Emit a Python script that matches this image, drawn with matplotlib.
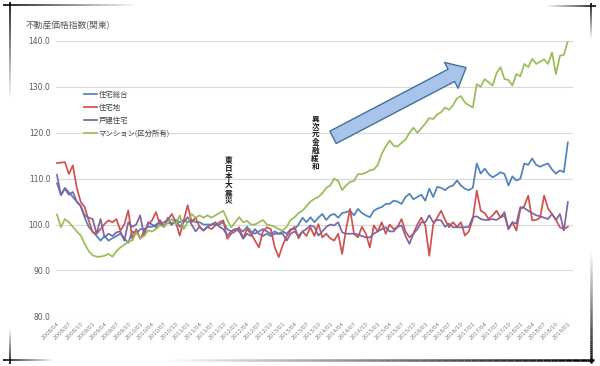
import matplotlib
matplotlib.use("Agg")
import matplotlib.pyplot as plt
from matplotlib.collections import LineCollection
from matplotlib.patches import FancyArrowPatch
import numpy as np

plt.rcParams['font.family'] = ['Noto Sans CJK JP', 'DejaVu Sans']

# ---- data ----
months = []
y, m = 2008, 4
while (y, m) <= (2019, 1):
    months.append(f"{y}/{m:02d}")
    m += 1
    if m > 12:
        m = 1
        y += 1

title = "不動産価格指数(関東)"
series_names = ["住宅総合", "住宅地", "戸建住宅", "マンション(区分所有)"]

sogo = [109.0, 106.5, 108.0, 107.0, 106.0, 105.0, 104.0, 101.5, 99.5, 98.5,
        97.5, 96.5, 97.5, 96.5, 97.0, 97.5, 98.0, 97.0, 96.0, 98.5,
        98.0, 99.0, 99.0, 99.5, 99.5, 100.0, 100.5, 99.5, 100.5, 100.0,
        101.0, 100.5, 101.0, 100.5, 101.0, 100.5, 100.5, 100.0, 100.0, 100.0,
        100.0, 100.0, 100.5, 99.0, 98.5, 99.0, 99.0, 98.5, 99.5, 98.5,
        98.0, 98.5, 99.0, 98.5, 98.0, 98.5, 98.0, 98.5, 98.0, 99.0,
        99.0, 100.0, 101.5, 100.5, 101.6, 100.5, 101.5, 102.3, 101.0, 102.0,
        102.3, 101.5, 102.5, 102.7, 103.0, 102.0, 103.4, 102.5, 102.0, 101.6,
        103.0, 103.5, 103.8, 104.5, 104.5, 105.2, 105.0, 104.5, 106.0, 106.7,
        105.5, 106.0, 106.5, 105.2, 107.8, 106.0, 108.2, 108.0, 107.5, 108.2,
        108.5, 109.6, 108.5, 107.8, 107.5, 108.0, 113.3, 111.1, 112.2, 111.0,
        110.3, 110.8, 111.4, 111.0, 108.5, 110.5, 109.6, 110.0, 113.3, 113.0,
        114.4, 113.0, 112.6, 113.0, 113.3, 112.0, 111.1, 111.8, 111.4, 117.9]

takuchi = [113.4, 113.5, 113.6, 111.0, 112.9, 108.0, 104.9, 103.8, 100.9, 98.3,
           98.0, 99.0, 100.1, 100.9, 100.5, 101.2, 98.7, 100.0, 103.1, 96.9,
           99.0, 96.9, 98.5, 100.0, 100.9, 102.7, 100.0, 100.5, 101.0, 102.3,
           100.5, 97.6, 100.9, 104.2, 100.5, 101.5, 99.5, 98.7, 99.5, 99.0,
           99.8, 100.5, 100.9, 96.9, 98.0, 98.5, 99.4, 97.0, 99.0, 98.0,
           96.5, 95.0, 98.5, 99.4, 99.0, 95.0, 92.9, 95.5, 97.5, 98.7,
           99.5, 97.0, 98.5, 97.5, 99.4, 97.5, 100.1, 97.2, 98.0, 97.0,
           96.5, 98.0, 93.6, 99.0, 103.4, 98.0, 97.2, 99.5, 98.0, 95.0,
           99.8, 98.5, 100.5, 98.0, 100.0, 99.0, 99.5, 101.2, 98.5, 97.2,
           98.0, 100.0, 101.5, 99.8, 93.2, 100.0, 101.5, 103.0, 101.0, 99.4,
           100.5, 99.5, 100.5, 97.6, 98.5, 101.2, 107.4, 103.0, 102.5, 101.2,
           102.0, 103.0, 101.5, 102.0, 99.0, 100.5, 98.7, 103.4, 104.0, 106.3,
           100.9, 101.0, 101.5, 106.3, 103.5, 102.3, 101.0, 99.4, 99.0, 99.5]

kodate = [110.8, 106.4, 107.8, 106.5, 107.1, 105.0, 104.0, 102.0, 101.5, 101.2,
          98.0, 101.2, 97.2, 98.0, 97.5, 98.3, 98.5, 96.5, 100.5, 99.5,
          100.0, 102.0, 97.6, 100.5, 100.0, 99.4, 101.0, 99.5, 101.5, 100.0,
          101.0, 99.5, 100.5, 101.6, 100.0, 98.5, 99.5, 98.7, 99.5, 100.0,
          100.5, 99.5, 99.0, 97.6, 98.5, 99.0, 98.5, 96.9, 98.0, 97.5,
          99.0, 98.0, 97.5, 98.0, 97.5, 98.0, 98.0, 98.0, 96.5, 98.0,
          98.5, 97.5, 98.5, 99.0, 99.8, 99.5, 97.6, 98.5, 99.5, 100.0,
          99.8, 100.5, 98.3, 98.0, 98.0, 98.0, 97.8, 97.5, 97.2, 97.2,
          98.0, 98.5, 99.0, 99.4, 98.5, 98.5, 99.5, 99.8, 97.5, 95.8,
          98.0, 99.0, 100.5, 100.5, 102.0, 100.5, 101.0, 100.9, 99.5, 100.2,
          99.4, 99.4, 99.4, 99.4, 99.5, 101.6, 101.8, 101.2, 101.0, 101.0,
          101.2, 101.0, 101.6, 102.7, 99.0, 100.5, 100.2, 103.8, 103.6, 103.0,
          102.5, 102.0, 101.8, 101.5, 101.2, 102.3, 101.0, 102.3, 98.7, 104.9]

mansion = [102.2, 99.4, 101.2, 100.5, 99.5, 98.5, 97.6, 95.8, 94.2, 93.3,
           93.0, 93.0, 93.2, 93.6, 93.0, 94.2, 95.0, 95.6, 96.3, 96.5,
           98.3, 97.0, 97.5, 98.7, 98.5, 99.0, 99.8, 99.5, 100.5, 101.2,
           100.0, 102.0, 99.0, 100.5, 102.3, 101.5, 102.0, 101.5, 102.0, 101.5,
           102.0, 102.5, 103.0, 101.0, 99.4, 100.5, 101.6, 100.5, 100.8, 100.0,
           100.0, 100.5, 101.0, 100.0, 99.8, 99.5, 99.0, 98.7, 99.5, 101.0,
           101.6, 102.5, 103.0, 104.0, 105.0, 105.6, 106.0, 106.8, 108.0, 108.5,
           110.0, 109.5, 107.5, 108.5, 109.3, 109.5, 111.0, 111.0, 111.3, 111.8,
           112.0, 113.0, 115.4, 117.0, 118.3, 117.2, 117.0, 117.8, 118.5, 120.0,
           121.1, 120.0, 121.0, 122.0, 123.2, 123.0, 124.0, 124.5, 125.5, 125.0,
           126.0, 127.5, 128.0, 126.6, 126.0, 125.5, 130.6, 130.0, 131.7, 131.0,
           130.3, 133.0, 134.3, 131.7, 131.5, 130.3, 132.8, 132.3, 135.0, 134.3,
           136.1, 135.0, 135.5, 136.0, 135.0, 137.5, 132.8, 136.8, 137.0, 140.0]

colors = ['#4F81BD', '#D0504D', '#8064A2', '#9BBB59']
yticks = [80, 90, 100, 110, 120, 130, 140]

W, H = 600, 366
fig = plt.figure(figsize=(6.0, 3.66), dpi=100)
ax = fig.add_axes([56 / W, 1 - 316.3 / H, (573 - 56) / W, (316.3 - 41) / H])

x = np.arange(len(months))
for vals, c, name in zip([sogo, takuchi, kodate, mansion], colors, series_names):
    ax.plot(x, vals, color=c, lw=1.25, label=name, solid_joinstyle='round')

ax.set_xlim(-0.25, 130.3)
ax.set_ylim(80, 140)
ax.set_yticks(yticks)
ax.set_yticklabels([f"{v:.1f}" for v in yticks], fontsize=5.5, color='#595959',
                   family='DejaVu Sans')
tick_idx = list(range(0, len(months), 3))
ax.set_xticks(tick_idx)
ax.set_xticklabels([months[i] for i in tick_idx], rotation=45, ha='right', va='top',
                   rotation_mode='anchor', fontsize=4.0, color='#7F7F7F',
                   family='DejaVu Sans')
ax.tick_params(length=0, pad=4)
ax.tick_params(axis='x', pad=3)
for s in ax.spines.values():
    s.set_visible(False)
ax.grid(axis='y', color='#D9D9D9', lw=0.8)
ax.set_axisbelow(True)

fig.text(26 / W, 1 - 26 / H, title, fontsize=6.3, color='#595959', va='center', ha='left')

leg = ax.legend(loc='upper left', bbox_to_anchor=(84 / W, 1 - 90.5 / H),
                bbox_transform=fig.transFigure, frameon=False, fontsize=5.3,
                handlelength=1.8, handletextpad=0.2, labelspacing=0.68,
                borderpad=0, borderaxespad=0)
for t in leg.get_texts():
    t.set_color('#404040')

# annotations (vertical text)
def vtext(xv, yv, s):
    ax.text(xv, yv, "\n".join(s), fontsize=5.5, linespacing=0.86, ha='center',
            va='center', color='#1a1a1a', fontweight='bold')

vtext(43.4, 109.6, "東日本大震災")
vtext(65.2, 117.8, "異次元金融緩和")

arrow = FancyArrowPatch((69.7, 119.0), (103.3, 134.2),
                        arrowstyle='simple,head_length=12,head_width=21,tail_width=10',
                        mutation_scale=1, shrinkA=0, shrinkB=0,
                        fc='#A8C4EA', ec='#41719C', lw=1.0, zorder=5)
ax.add_patch(arrow)

# decorative frame corners
def grad_line(x0, y0, x1, y1, lw=1.5, a0=1.0, a1=0.0, n=60, color=(0, 0, 0)):
    xs = np.linspace(x0, x1, n + 1) / W
    ys = 1 - np.linspace(y0, y1, n + 1) / H
    segs = [[(xs[i], ys[i]), (xs[i + 1], ys[i + 1])] for i in range(n)]
    alphas = np.linspace(a0, a1, n)
    cols = [(color[0], color[1], color[2], a) for a in alphas]
    lc = LineCollection(segs, colors=cols, linewidths=lw, transform=fig.transFigure)
    fig.add_artist(lc)

grad_line(3, 5, 140, 5, lw=1.2)
grad_line(10, 2, 10, 100, lw=1.2)
grad_line(596, 6, 545, 6, lw=1.2)
grad_line(591, 3, 591, 40, lw=1.2)
grad_line(594, 360, 160, 360, lw=1.8)
grad_line(591, 363, 591, 250, lw=1.8)
grad_line(3, 360, 55, 360, lw=1.2)
grad_line(10, 364, 10, 328, lw=1.2)

fig.savefig("out.png", dpi=100)
